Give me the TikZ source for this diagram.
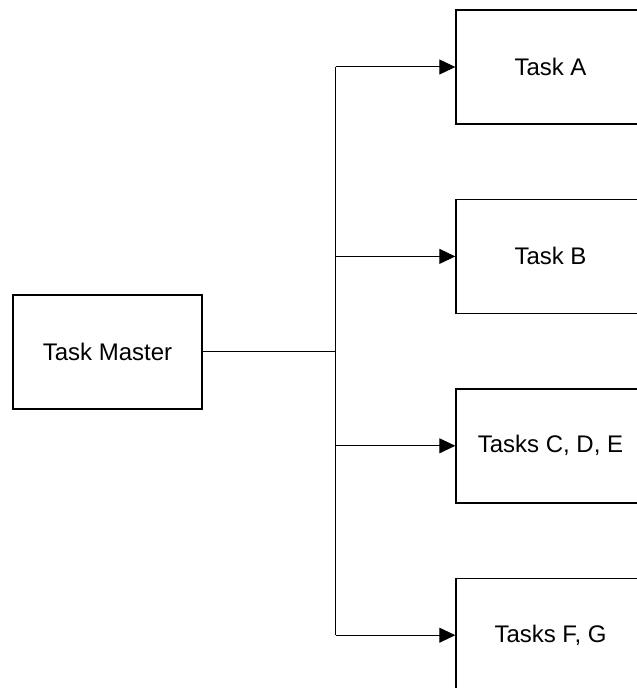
\documentclass[tikz,border=0pt]{standalone}
\usepackage{fontspec}
\setmainfont{Liberation Sans}
\usetikzlibrary{positioning,arrows.meta}

\begin{document}
\begin{tikzpicture}[x=0.5pt,y=-0.5pt,
  node distance=37pt,
  task/.style={draw,line width=0.7pt,minimum width=94.5pt,minimum height=57pt,
    inner sep=0pt,font=\fontsize{12}{14}\selectfont},
  link/.style={line width=0.5pt},
  feed/.style={link,-{Triangle[length=8pt,width=7.5pt]}}]
\useasboundingbox (0,0) rectangle (636,688);

% nodes
\node[task] (master) at (107.5,352) {Task Master};
\node[task] (a) at (550.5,67) {Task A};
\node[task] (b) [below=of a] {Task B};
\node[task] (cde) [below=of b] {Tasks C, D, E};
\node[task] (fg) [below=of cde] {Tasks F, G};
\coordinate (split) at (335.5,352);

% arrows
\draw[link] (master) -- (split);
\draw[link] (split |- a) -- (split |- fg);
\draw[feed] (split |- a) -- (a);
\draw[feed] (split |- b) -- (b);
\draw[feed] (split |- cde) -- (cde);
\draw[feed] (split |- fg) -- (fg);
\end{tikzpicture}
\end{document}
